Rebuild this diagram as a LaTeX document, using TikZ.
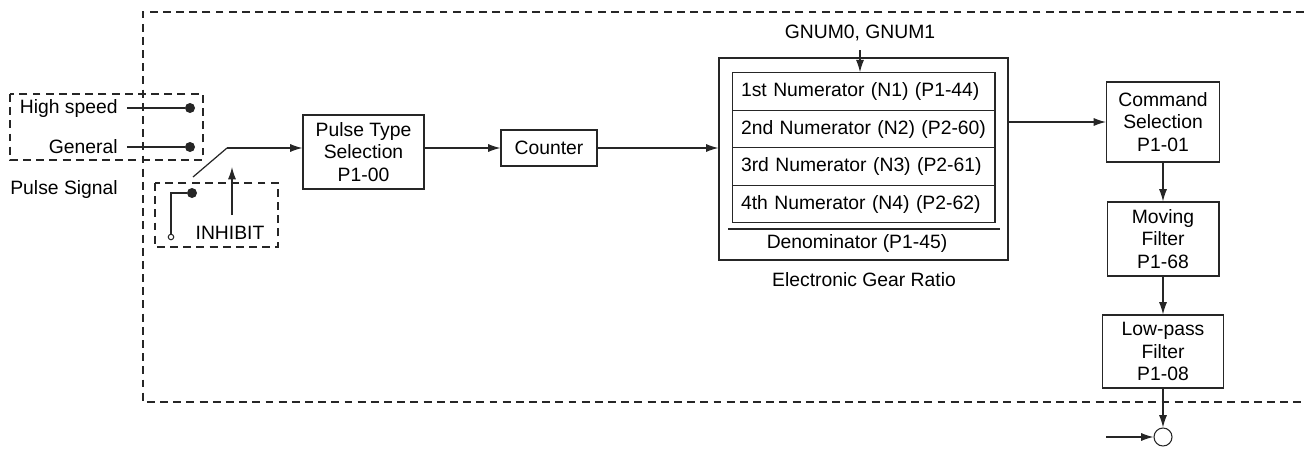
\documentclass[tikz,border=0pt]{standalone}
\usepackage{fontspec}
\setmainfont{Liberation Sans}
\usetikzlibrary{positioning,arrows.meta}

\begin{document}
\begin{tikzpicture}[
    x=0.02cm, y=-0.02cm,
    txt/.style={font=\fontsize{11}{12.6}\selectfont, inner sep=0pt},
    blk/.style={txt, draw=black!85, line width=0.6pt, align=center},
    row/.style={txt, draw=black!85, line width=0.6pt, align=left, text width=4.9cm,
        inner xsep=0.18cm, minimum height=0.75cm},
    dsh/.style={draw=black!85, line width=0.6pt, dash pattern=on 4.5pt off 3pt},
    wire/.style={draw=black!85, line width=0.7pt},
    arr/.style={wire, -{Latex[length=7pt,width=4.6pt]}},
    dot/.style={circle, fill=black!85, inner sep=0pt, minimum size=0.2cm},
    pin/.style={circle, draw=black!85, fill=white, line width=0.6pt, inner sep=0pt, minimum size=0.11cm},
]
\useasboundingbox (0,0) rectangle (1304,450);
\draw[dsh] (1304,12) -- (143,12) -- (143,402) -- (1304,402);

\draw[dsh] (10,94) rectangle (203,160);
\node[txt, anchor=east] (hs) at (118,108) {High speed};
\node[dot] (hsdot) at (190,108) {};
\draw[wire] ([xshift=0.18cm]hs.east) -- (hsdot);
\node[txt, anchor=east] (gen) at (118,147) {General};
\node[dot] (gendot) at (190,147) {};
\draw[wire] ([xshift=0.18cm]gen.east) -- (gendot);
\node[txt, anchor=west] (sig) at (10,189) {Pulse Signal};

\draw[dsh] (155,183) rectangle (278,247);
\node[dot] (swdot) at (192,193) {};
\node[pin] (swpin) at (171,237) {};
\draw[wire] (swdot) -| (swpin.north);
\node[txt] (inh) at (230,233) {INHIBIT};
\coordinate (inhbase) at (232,215);
\coordinate (inhtip) at (232,167);
\draw[arr] (inhbase) -- (inhtip);
\coordinate (arm) at (193,177);
\coordinate (knee) at (227,148);

\node[blk, minimum width=2.42cm, minimum height=1.48cm] (pulse) at (363.5,152)
    {Pulse Type\\Selection\\P1-00};
\node[blk, minimum width=1.92cm, minimum height=0.72cm] (cnt) at (549,148) {Counter};

\node[draw=black!85, line width=0.7pt, minimum width=5.78cm, minimum height=4.04cm] (gear) at (863.5,159) {};
\node[row] (n1) at (863.5,91.5) {1st Numerator (N1) (P1-44)};
\node[row] (n2) at (863.5,129) {2nd Numerator (N2) (P2-60)};
\node[row] (n3) at (863.5,166.5) {3rd Numerator (N3) (P2-61)};
\node[row] (n4) at (863.5,204) {4th Numerator (N4) (P2-62)};
\draw[wire] (728,229) -- (1000,229);
\node[txt] (den) at (857,243) {Denominator (P1-45)};
\node[txt] (egr) at (864,280) {Electronic Gear Ratio};
\node[txt] (gnum) at (860,33) {GNUM0, GNUM1};

\node[blk, minimum width=2.26cm, minimum height=1.6cm] (cmd) at (1163,122)
    {Command\\Selection\\P1-01};
\node[blk, minimum width=2.24cm, minimum height=1.48cm] (mov) at (1163,239)
    {Moving\\Filter\\P1-68};
\node[blk, minimum width=2.42cm, minimum height=1.46cm] (lpf) at (1163,351.5)
    {Low-pass\\Filter\\P1-08};
\node[circle, draw=black!85, line width=0.6pt, minimum size=0.36cm, inner sep=0pt] (sum) at (1163,437) {};
\coordinate (sumin) at (1106,437);

\draw[wire] (arm) -- (knee);
\draw[arr] (knee) -- (knee -| pulse.west);
\draw[arr] (cnt.west -| pulse.east) -- (cnt.west);
\draw[arr] (cnt.east) -- (cnt.east -| gear.west);
\draw[arr] ([yshift=-0.18cm]gnum.south) -- (gnum.south |- n1.north);
\draw[arr] (cmd.west -| gear.east) -- (cmd.west);
\draw[arr] (cmd.south) -- (mov.north);
\draw[arr] (mov.south) -- (lpf.north);
\draw[arr] (lpf.south) -- (sum.north);
\draw[arr] (sumin) -- (sum.west);
\end{tikzpicture}
\end{document}
